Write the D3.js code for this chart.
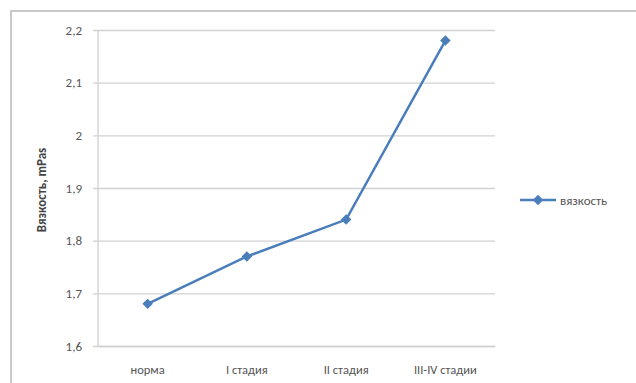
<!DOCTYPE html>
<html>
<head>
<meta charset="utf-8">
<script src="https://cdn.jsdelivr.net/npm/d3@7"></script>
<style>
  html, body { margin: 0; padding: 0; background: #fff; }
  svg { display: block; }
  text { font-family: Carlito, "Liberation Sans", "DejaVu Sans", sans-serif; }
</style>
</head>
<body>
<script>
// Viscosity by disease stage
const categories = ["норма", "I стадия", "II стадия", "III-IV стадии"];
const viscosity = [1.68, 1.77, 1.84, 2.18];
const yTicks = [1.6, 1.7, 1.8, 1.9, 2.0, 2.1, 2.2];
const seriesName = "вязкость";
const yTitle = "Вязкость, mPas";

const W = 636, H = 383;
const plot = { left: 98, right: 495, top: 30, bottom: 346 };
const lineColor = "#4a7ebb";

const svg = d3.select("body").append("svg")
  .attr("width", W).attr("height", H);

// chart frame
svg.append("path")
  .attr("d", `M11,${H} L11,11 L${W},11`)
  .attr("fill", "none")
  .attr("stroke", "#c9c9c9")
  .attr("stroke-width", 2);

const x = d3.scaleBand().domain(categories)
  .range([plot.left, plot.right]);
const y = d3.scaleLinear().domain([1.6, 2.2])
  .range([plot.bottom, plot.top]);

const fmt = d => d3.format("~g")(d).replace(".", ",");

// horizontal gridlines with ticks on the left
const yAxis = d3.axisLeft(y).tickValues(yTicks)
  .tickSize(-(plot.right - plot.left)).tickFormat(fmt).tickPadding(16);
const gy = svg.append("g")
  .attr("transform", `translate(${plot.left},0)`)
  .call(yAxis);
gy.select(".domain").remove();
gy.selectAll(".tick line")
  .attr("x1", -5)
  .attr("stroke", "#d2d2d2").attr("stroke-width", 1.3);
gy.selectAll(".tick text")
  .attr("fill", "#555").attr("font-size", 13);

// vertical axis line
svg.append("line")
  .attr("x1", plot.left).attr("x2", plot.left)
  .attr("y1", plot.top).attr("y2", plot.bottom)
  .attr("stroke", "#cfcfcf").attr("stroke-width", 1.3);

// category axis
const xAxis = d3.axisBottom(x).tickSize(0).tickPadding(19);
const gx = svg.append("g")
  .attr("transform", `translate(0,${plot.bottom})`)
  .call(xAxis);
gx.select(".domain").attr("stroke", "#cfcfcf").attr("stroke-width", 1.3);
gx.selectAll(".tick text")
  .attr("fill", "#555").attr("font-size", 12.5);

// y-axis title
svg.append("text")
  .attr("transform", `translate(46,${(plot.top + plot.bottom) / 2 + 2}) rotate(-90)`)
  .attr("text-anchor", "middle")
  .attr("font-size", 13)
  .attr("font-weight", "bold")
  .attr("fill", "#444")
  .text(yTitle);

// data line
const cx = d => x(d) + x.bandwidth() / 2;
const line = d3.line()
  .x((d, i) => cx(categories[i]))
  .y(d => y(d));
svg.append("path")
  .datum(viscosity)
  .attr("d", line)
  .attr("fill", "none")
  .attr("stroke", lineColor)
  .attr("stroke-width", 2.5);

const diamond = d3.symbol().type(d3.symbolDiamond2).size(70);
svg.append("g").selectAll("path")
  .data(viscosity)
  .join("path")
  .attr("d", diamond)
  .attr("transform", (d, i) => `translate(${cx(categories[i])},${y(d)})`)
  .attr("fill", lineColor);

// legend
const lg = svg.append("g").attr("transform", "translate(520,200)");
lg.append("line")
  .attr("x1", 0).attr("x2", 36)
  .attr("stroke", lineColor).attr("stroke-width", 2.5);
lg.append("path")
  .attr("d", diamond)
  .attr("transform", "translate(18,0)")
  .attr("fill", lineColor);
lg.append("text")
  .attr("x", 40).attr("y", 4.5)
  .attr("font-size", 13)
  .attr("fill", "#555")
  .text(seriesName);
</script>
</body>
</html>
